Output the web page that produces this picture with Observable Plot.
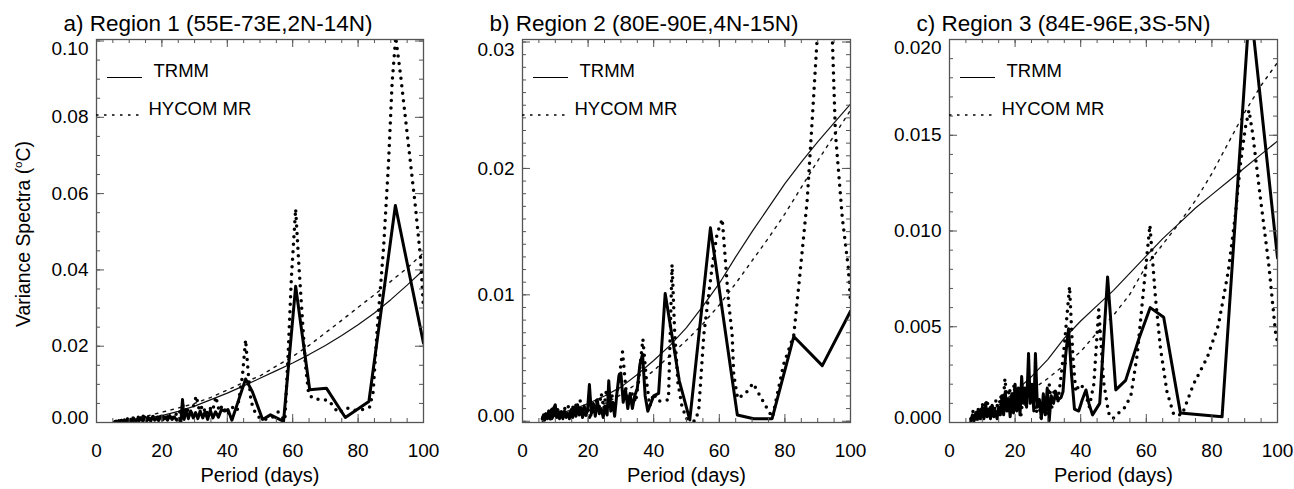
<!DOCTYPE html>
<html><head><meta charset="utf-8">
<script src="https://cdn.jsdelivr.net/npm/d3@7"></script>
<script src="https://cdn.jsdelivr.net/npm/@observablehq/plot@0.6"></script>
<style>
body{margin:0;background:#fff;}
#wrap{position:relative;width:1294px;height:489px;overflow:hidden;font-family:"Liberation Sans",Arial,Helvetica,sans-serif;}
.panel{position:absolute;top:0;}
#ylab{position:absolute;left:24px;top:234px;transform:translate(-50%,-50%) rotate(-90deg);white-space:nowrap;font-size:19.4px;line-height:1;color:#000;}
#ylab sup{font-size:0.6em;vertical-align:0.7em;line-height:0;}
</style></head>
<body><div id="wrap"></div>
<script>
// ---------- tick labels ----------
const xTicks = [0, 20, 40, 60, 80, 100];
const aYTicks = [0, 0.02, 0.04, 0.06, 0.08, 0.10];
const bYTicks = [0, 0.01, 0.02, 0.03];
const cYTicks = [0, 0.005, 0.010, 0.015, 0.020];
const titles = ["a) Region 1 (55E-73E,2N-14N)", "b) Region 2 (80E-90E,4N-15N)", "c) Region 3 (84E-96E,3S-5N)"];
const seriesNames = ["TRMM", "HYCOM MR"];

// ---------- panel a ----------
const aTrmmP = [5.6,6.0,6.4,6.8,7.2,7.6,8.0,8.5,9.0,9.5,10.0,10.5,11.0,11.5,12.0,12.5,13.0,13.6,14.2,14.8,15.4,16.0,16.6,17.2,17.8,18.4,19.0,19.6,20.3,21.0,21.7,22.4,23.1,23.8,24.5,25.2,25.8,26.3,26.8,27.4,28.1,28.8,29.6,30.3,31.0,31.7,32.5,33.2,34.0,34.8,35.6,36.4,37.3,38.2,39.2,40.2,41.4,43.5,45.6,47.7,50.8,53.2,57.2,60.9,65.2,70.3,76.1,83.3,91.4,100];
const aTrmmV = [0.0001,0.0004,0.0000,0.0005,0.0001,0.0006,0.0001,0.0007,0.0002,0.0009,0.0002,0.0008,0.0003,0.0010,0.0003,0.0009,0.0004,0.0012,0.0003,0.0014,0.0005,0.0010,0.0004,0.0015,0.0006,0.0012,0.0005,0.0016,0.0007,0.0014,0.0006,0.0018,0.0008,0.0015,0.0006,0.0010,0.0002,0.0060,0.0008,0.0034,0.0010,0.0030,0.0012,0.0026,0.0010,0.0030,0.0012,0.0028,0.0008,0.0032,0.0012,0.0028,0.0014,0.0034,0.0030,0.0034,0.0006,0.0060,0.0114,0.0080,0.0008,0.0020,0.0003,0.0357,0.0086,0.0090,0.0013,0.0055,0.0569,0.0208];
const aHycP = [5.6,6.4,7.2,8.0,8.8,9.6,10.4,11.2,12.0,12.8,13.6,14.4,15.2,16.0,16.8,17.6,18.4,19.2,20.0,20.8,21.6,22.4,23.2,24.0,24.8,25.6,26.4,27.2,28.0,29.0,30.5,31.5,32.5,33.5,34.5,35.5,36.5,37.5,38.5,40.0,41.5,43.0,44.6,45.6,46.4,47.2,48.0,50.0,52.0,54.0,55.5,57.6,58.6,59.6,60.9,61.9,62.9,63.9,64.9,66.5,68.5,71.0,74.0,76.5,79.0,81.3,83.5,84.6,85.8,87.8,89.3,90.4,91.5,93.0,95.5,97.6,99.1,100];
const aHycV = [0.0002,0.0006,0.0003,0.0008,0.0004,0.0010,0.0005,0.0012,0.0006,0.0014,0.0008,0.0018,0.0009,0.0016,0.0010,0.0020,0.0011,0.0018,0.0012,0.0022,0.0014,0.0020,0.0012,0.0026,0.0016,0.0030,0.0045,0.0020,0.0034,0.0022,0.0070,0.0030,0.0045,0.0020,0.0040,0.0030,0.0068,0.0030,0.0045,0.0020,0.0040,0.0030,0.0120,0.0217,0.0130,0.0060,0.0034,0.0010,0.0008,0.0015,0.0028,0.0005,0.0180,0.0380,0.0560,0.0410,0.0280,0.0150,0.0073,0.0062,0.0060,0.0058,0.0025,0.0038,0.0032,0.0034,0.0040,0.0080,0.0240,0.0460,0.0680,0.0890,0.1010,0.0910,0.0720,0.0560,0.0430,0.0300];
const aFitP = [6,10,15,20,25,30,35,40,45,50,55,60,65,70,75,80,85,90,95,100];
const aTrmmFitV = [0.0003,0.0006,0.0011,0.0018,0.0029,0.0043,0.0060,0.0077,0.0096,0.0116,0.0136,0.0156,0.0178,0.0202,0.0228,0.0256,0.0287,0.0322,0.0360,0.0400];
const aHycFitV = [0.0003,0.0008,0.0016,0.0027,0.0038,0.0050,0.0066,0.0085,0.0105,0.0122,0.0148,0.0173,0.0202,0.0235,0.0268,0.0302,0.0335,0.0370,0.0405,0.0445];

// ---------- panel b ----------
const bTrmmP = [6.0,6.4,6.8,7.2,7.6,8.0,8.4,8.8,9.2,9.6,10.0,10.4,10.8,11.3,11.8,12.3,12.8,13.3,13.8,14.3,14.8,15.3,15.8,16.3,16.8,17.3,17.8,18.3,18.8,19.3,19.8,20.4,21.0,21.6,22.2,22.8,23.4,24.0,24.6,25.2,25.8,26.3,26.9,27.5,28.1,28.7,29.4,30.0,30.7,31.4,32.1,32.8,33.5,34.2,35.0,35.8,36.6,37.4,38.2,39.1,40.0,41.5,43.5,47.8,51.0,57.3,65.5,70.5,76.1,82.7,91.4,100];
const bTrmmV = [0.0002,0.0005,0.0001,0.0006,0.0002,0.0008,0.0002,0.0009,0.0003,0.0011,0.0013,0.0003,0.0009,0.0002,0.0007,0.0002,0.0008,0.0003,0.0006,0.0002,0.0008,0.0003,0.0011,0.0004,0.0013,0.0005,0.0010,0.0003,0.0012,0.0005,0.0008,0.0029,0.0006,0.0014,0.0004,0.0017,0.0006,0.0010,0.0003,0.0012,0.0005,0.0032,0.0008,0.0015,0.0004,0.0020,0.0036,0.0038,0.0015,0.0025,0.0010,0.0022,0.0010,0.0020,0.0026,0.0045,0.0053,0.0020,0.0008,0.0014,0.0020,0.0022,0.0101,0.0032,0.0001,0.0153,0.0005,0.0002,0.0002,0.0067,0.0044,0.0087];
const bHycP = [6.2,6.8,7.4,8.0,8.6,9.2,9.8,10.4,11.0,11.6,12.2,12.8,13.4,14.0,14.6,15.2,15.8,16.4,17.0,17.6,18.2,18.8,19.4,20.0,20.6,21.2,21.8,22.5,23.2,24.0,24.8,25.6,26.4,27.2,28.0,29.0,30.5,31.5,32.5,33.5,34.5,35.5,36.7,37.8,38.8,40.0,41.2,42.6,44.5,45.6,46.4,47.4,48.6,50.0,52.5,53.7,55.3,57.8,59.3,60.9,62.8,63.9,64.4,65.6,68.0,70.3,72.0,74.6,76.2,79.6,82.7,84.8,86.8,88.6,90.0,92.2,94.5,95.4,97.5,99.3,100];
const bHycV = [0.0003,0.0007,0.0002,0.0009,0.0003,0.0010,0.0004,0.0012,0.0005,0.0010,0.0004,0.0011,0.0005,0.0012,0.0005,0.0013,0.0006,0.0014,0.0007,0.0016,0.0006,0.0012,0.0004,0.0009,0.0001,0.0012,0.0006,0.0016,0.0008,0.0022,0.0010,0.0025,0.0014,0.0022,0.0008,0.0025,0.0055,0.0026,0.0012,0.0022,0.0015,0.0035,0.0065,0.0032,0.0012,0.0022,0.0016,0.0016,0.0017,0.0124,0.0070,0.0030,0.0012,0.0002,0.0000,0.0008,0.0069,0.0122,0.0148,0.0160,0.0095,0.0069,0.0037,0.0018,0.0022,0.0030,0.0022,0.0010,0.0003,0.0045,0.0068,0.0122,0.0175,0.0250,0.0310,0.0370,0.0300,0.0228,0.0161,0.0122,0.0095];
const bFitP = [6,10,15,20,25,30,35,40,45,50,55,60,65,70,75,80,85,90,95,100];
const bTrmmFitV = [0.0001,0.0005,0.0009,0.0014,0.0020,0.0027,0.0037,0.0048,0.0060,0.0074,0.0091,0.0109,0.0130,0.0150,0.0169,0.0188,0.0205,0.0221,0.0236,0.0251];
const bHycFitV = [0.0000,0.0002,0.0005,0.0008,0.0014,0.0021,0.0030,0.0040,0.0052,0.0064,0.0077,0.0092,0.0109,0.0127,0.0145,0.0164,0.0185,0.0206,0.0226,0.0246];

// ---------- panel c ----------
const cTrmmP = [6.5,7.0,7.5,8.0,8.5,9.0,9.5,10.0,10.5,11.0,11.5,12.0,12.5,13.0,13.5,14.0,14.5,15.0,15.5,16.0,16.5,17.0,17.5,18.0,18.5,19.0,19.5,20.0,20.5,21.0,21.5,22.0,22.5,23.0,23.5,24.1,24.6,25.2,25.7,26.2,26.8,27.4,28.0,28.6,29.2,29.8,30.4,31.0,31.7,32.4,33.2,34.0,34.6,35.4,36.3,37.2,38.1,39.4,40.5,41.6,42.5,43.6,45.8,48.2,50.7,53.7,57.8,61.2,65.3,70.4,83.1,91.6,100];
const cTrmmV = [0.0001,0.0004,0.0001,0.0005,0.0002,0.0006,0.0002,0.0008,0.0002,0.0010,0.0003,0.0007,0.0002,0.0009,0.0003,0.0006,0.0002,0.0008,0.0004,0.0014,0.0004,0.0016,0.0006,0.0012,0.0003,0.0015,0.0005,0.0020,0.0006,0.0018,0.0004,0.0024,0.0010,0.0018,0.0008,0.0036,0.0010,0.0020,0.0006,0.0036,0.0008,0.0012,0.0002,0.0015,0.0004,0.0018,0.0001,0.0014,0.0010,0.0016,0.0012,0.0013,0.0016,0.0035,0.0049,0.0025,0.0007,0.0006,0.0012,0.0017,0.0010,0.0004,0.0010,0.0076,0.0017,0.0022,0.0044,0.0060,0.0055,0.0005,0.0003,0.0220,0.0086];
const cHycP = [6.5,7.2,7.9,8.6,9.3,10.0,10.7,11.4,12.1,12.8,13.5,14.2,14.9,15.6,16.3,16.9,17.6,18.3,19.0,19.7,20.4,21.1,21.8,22.5,23.2,24.0,24.8,25.6,26.4,27.2,28.0,28.8,29.6,30.4,31.2,32.0,33.0,34.0,35.0,36.6,37.6,38.5,39.6,41.0,42.6,44.0,45.5,47.0,48.5,49.8,51.6,53.5,55.3,57.2,59.2,61.1,62.8,64.3,66.3,68.4,70.9,74.4,78.6,82.0,85.0,87.2,88.7,90.2,91.3,92.5,94.8,97.3,99.4,100];
const cHycV = [0.0002,0.0006,0.0002,0.0008,0.0003,0.0010,0.0004,0.0012,0.0005,0.0010,0.0004,0.0012,0.0006,0.0014,0.0008,0.0023,0.0010,0.0018,0.0008,0.0020,0.0006,0.0017,0.0004,0.0015,0.0008,0.0022,0.0012,0.0020,0.0005,0.0010,0.0002,0.0012,0.0004,0.0020,0.0008,0.0018,0.0010,0.0024,0.0040,0.0071,0.0035,0.0016,0.0020,0.0018,0.0008,0.0020,0.0059,0.0021,0.0005,0.0002,0.0005,0.0008,0.0014,0.0035,0.0070,0.0103,0.0065,0.0039,0.0016,0.0004,0.0004,0.0020,0.0034,0.0051,0.0079,0.0109,0.0135,0.0154,0.0163,0.0150,0.0117,0.0083,0.0047,0.0042];
const cFitP = [6,10,15,20,25,30,35,40,45,50,55,60,65,70,75,80,85,90,95,100];
const cTrmmFitV = [0.0000,0.0003,0.0009,0.0016,0.0024,0.0033,0.0044,0.0053,0.0061,0.0069,0.0078,0.0087,0.0096,0.0104,0.0112,0.0119,0.0126,0.0133,0.0140,0.0147];
const cHycFitV = [0.0000,0.0002,0.0007,0.0012,0.0017,0.0023,0.0030,0.0037,0.0047,0.0056,0.0067,0.0082,0.0093,0.0104,0.0116,0.0130,0.0146,0.0162,0.0176,0.0188];

// ---------- build ----------
const pts = (P, V) => P.map((p, i) => ({p, v: V[i]}));
const FONT = '"Liberation Sans", Arial, Helvetica, sans-serif';
const H = 489, MT = 39, MB = 67, FH = H - MT - MB;
const INK = "#000", FRAME = "#555";

function legendLines(index, scales, values, dims) {
  const ns = "http://www.w3.org/2000/svg";
  const g = document.createElementNS(ns, "g");
  const L = dims.marginLeft, T = dims.marginTop;
  const add = (x1, x2, y, dash) => {
    const l = document.createElementNS(ns, "line");
    l.setAttribute("x1", L + x1); l.setAttribute("x2", L + x2);
    l.setAttribute("y1", T + y); l.setAttribute("y2", T + y);
    l.setAttribute("stroke", INK); l.setAttribute("stroke-width", dash ? 1.3 : 1.1);
    if (dash) l.setAttribute("stroke-dasharray", dash);
    g.appendChild(l);
  };
  add(11, 46, 38.5, null);
  add(0, 47, 76, "2.5 5.5");
  return g;
}

function panel(cfg) {
  const FW = cfg.width - cfg.ml - cfg.mr;
  const fmt = d3.format(cfg.fmt);
  const yT = cfg.yTicks;
  const T = {fill: INK, lineAnchor: "middle"};
  return Plot.plot({
    width: cfg.width, height: H,
    marginLeft: cfg.ml, marginRight: cfg.mr, marginTop: MT, marginBottom: MB,
    x: {domain: [0, 100], axis: null},
    y: {domain: cfg.yDomain, axis: null},
    style: {fontFamily: FONT, background: "transparent", overflow: "visible", color: INK},
    marks: [
      // fitted (thin) curves
      Plot.line(pts(cfg.fitP, cfg.trmmFit), {x: "p", y: "v", stroke: "#111", strokeWidth: 1.2, clip: true}),
      Plot.line(pts(cfg.fitP, cfg.hycFit), {x: "p", y: "v", stroke: "#111", strokeWidth: 1.4, strokeDasharray: "2.5 5.5", clip: true}),
      // spectra (thick)
      Plot.line(pts(cfg.hycP, cfg.hycV), {x: "p", y: "v", stroke: INK, strokeWidth: 3.5, strokeDasharray: "0 7.5", strokeLinecap: "round", clip: true}),
      Plot.line(pts(cfg.trmmP, cfg.trmmV), {x: "p", y: "v", stroke: INK, strokeWidth: 3, strokeLinejoin: "round", clip: true}),
      // inward ticks, all four sides
      Plot.tickX(d3.range(0, 100.01, 5), {x: d => d, insetTop: FH - 4, stroke: FRAME, strokeWidth: 1}),
      Plot.tickX(d3.range(0, 100.01, 5), {x: d => d, insetBottom: FH - 4, stroke: FRAME, strokeWidth: 1}),
      Plot.tickX(xTicks, {x: d => d, insetTop: FH - 8, stroke: FRAME, strokeWidth: 1}),
      Plot.tickX(xTicks, {x: d => d, insetBottom: FH - 8, stroke: FRAME, strokeWidth: 1}),
      Plot.tickY(cfg.yMinor, {y: d => d, insetRight: FW - 4, stroke: FRAME, strokeWidth: 1}),
      Plot.tickY(cfg.yMinor, {y: d => d, insetLeft: FW - 4, stroke: FRAME, strokeWidth: 1}),
      Plot.tickY(yT, {y: d => d, insetRight: FW - 8, stroke: FRAME, strokeWidth: 1}),
      Plot.tickY(yT, {y: d => d, insetLeft: FW - 8, stroke: FRAME, strokeWidth: 1}),
      Plot.frame({stroke: FRAME, strokeWidth: 1.3}),
      // tick labels
      Plot.text(xTicks, {...T, x: d => d, frameAnchor: "bottom", dy: 28, text: d => String(d), fontSize: 19}),
      Plot.text(yT.slice(1, -1), {...T, y: d => d, frameAnchor: "left", dx: -8, textAnchor: "end", text: d => fmt(d), fontSize: 19}),
      Plot.text([yT[0]], {...T, y: d => d, frameAnchor: "left", dx: -8, dy: -5, textAnchor: "end", text: d => fmt(d), fontSize: 19}),
      Plot.text([yT[yT.length - 1]], {...T, y: d => d, frameAnchor: "left", dx: -8, dy: 8, textAnchor: "end", text: d => fmt(d), fontSize: 19}),
      // axis label and title
      Plot.text(["Period (days)"], {...T, frameAnchor: "bottom", dy: 53.5, fontSize: 20}),
      Plot.text([cfg.title], {...T, frameAnchor: "top-left", dx: -33, dy: -15.7, textAnchor: "start", fontSize: 22.5}),
      // legend
      legendLines,
      Plot.text([seriesNames[0]], {...T, frameAnchor: "top-left", dx: 57, dy: 32, textAnchor: "start", fontSize: 18.5}),
      Plot.text([seriesNames[1]], {...T, frameAnchor: "top-left", dx: 52, dy: 69.5, textAnchor: "start", fontSize: 18.5})
    ]
  });
}

const cfgs = [
  {left: 0, width: 431, ml: 96, mr: 8, yDomain: [0, 0.1004], yTicks: aYTicks, yMinor: d3.range(0, 0.1001, 0.005), fmt: ".2f", title: titles[0],
   trmmP: aTrmmP, trmmV: aTrmmV, hycP: aHycP, hycV: aHycV, fitP: aFitP, trmmFit: aTrmmFitV, hycFit: aHycFitV},
  {left: 431, width: 431, ml: 91, mr: 12, yDomain: [-0.0001, 0.0302], yTicks: bYTicks, yMinor: d3.range(0, 0.03001, 0.001), fmt: ".2f", title: titles[1],
   trmmP: bTrmmP, trmmV: bTrmmV, hycP: bHycP, hycV: bHycV, fitP: bFitP, trmmFit: bTrmmFitV, hycFit: bHycFitV},
  {left: 862, width: 432, ml: 87, mr: 17, yDomain: [0, 0.0200], yTicks: cYTicks, yMinor: d3.range(0, 0.02001, 0.001), fmt: ".3f", title: titles[2],
   trmmP: cTrmmP, trmmV: cTrmmV, hycP: cHycP, hycV: cHycV, fitP: cFitP, trmmFit: cTrmmFitV, hycFit: cHycFitV}
];

const wrap = document.getElementById("wrap");
for (const c of cfgs) {
  const div = document.createElement("div");
  div.className = "panel";
  div.style.left = c.left + "px";
  div.appendChild(panel(c));
  wrap.appendChild(div);
}
const yl = document.createElement("div");
yl.id = "ylab";
yl.innerHTML = "Variance Spectra (<sup>o</sup>C)";
wrap.appendChild(yl);
</script>
</body></html>
